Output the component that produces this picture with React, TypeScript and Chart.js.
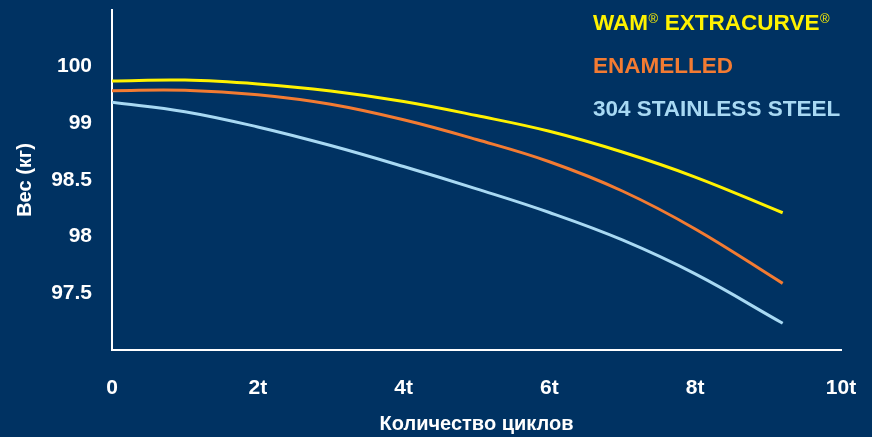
import React, { useEffect, useRef } from "react";
import { Chart, registerables } from "chart.js";

Chart.register(...registerables);

const BG = "#003262";
const CYCLES = [0, 1, 2, 3, 4, 5, 6, 7, 8, 9.2];
const WAM = [99.374, 99.382, 99.348, 99.286, 99.193, 99.069, 98.93, 98.747, 98.526, 98.211];
const ENAMELLED = [99.288, 99.291, 99.252, 99.168, 99.031, 98.857, 98.661, 98.403, 98.068, 97.588];
const STAINLESS = [99.186, 99.103, 98.968, 98.804, 98.619, 98.422, 98.213, 97.971, 97.671, 97.236];
const SERIES_NAMES = ["WAM® EXTRACURVE®", "ENAMELLED", "304 STAINLESS STEEL"];
const SERIES_COLORS = ["#fff200", "#f37b32", "#a8d9f3"];
const X_TICK_VALUES = [0, 2, 4, 6, 8, 10];
const X_TICK_LABELS = ["0", "2t", "4t", "6t", "8t", "10t"];
const Y_TICK_VALUES = [97.5, 98, 98.5, 99, 99.5];
const Y_TICK_LABELS = ["97.5", "98", "98.5", "99", "100"];
const X_TITLE = "Количество циклов";
const Y_TITLE = "Вес (кг)";

const FONT = "'Liberation Sans', Arial, sans-serif";

const legendPlugin = {
  id: "textLegend",
  afterDraw(chart: any) {
    const ctx = chart.ctx;
    ctx.save();
    ctx.textBaseline = "alphabetic";
    ctx.textAlign = "left";
    const x0 = 593;
    const baselines = [29.5, 72.5, 115.5];
    chart.data.datasets.forEach((ds: any, i: number) => {
      ctx.fillStyle = ds.borderColor;
      let x = x0;
      const parts = String(ds.label).split("®");
      parts.forEach((p: string, j: number) => {
        ctx.font = `bold 22.5px ${FONT}`;
        ctx.fillText(p, x, baselines[i]);
        x += ctx.measureText(p).width;
        if (j < parts.length - 1) {
          ctx.font = `13px ${FONT}`;
          ctx.fillText("®", x + 0.5, baselines[i] - 7);
          x += ctx.measureText("®").width + 1;
        }
      });
    });
    ctx.restore();
  },
};

export default function App() {
  const ref = useRef<HTMLCanvasElement | null>(null);
  useEffect(() => {
    document.body.style.margin = "0";
    document.body.style.background = BG;
    const datasets = [WAM, ENAMELLED, STAINLESS].map((vals, i) => ({
      label: SERIES_NAMES[i],
      data: vals.map((v, k) => ({ x: CYCLES[k], y: v })),
      borderColor: SERIES_COLORS[i],
      backgroundColor: SERIES_COLORS[i],
      borderWidth: 3,
      pointRadius: 0,
      tension: 0.4,
      fill: false,
    }));
    const chart = new Chart(ref.current!, {
      type: "line",
      data: { datasets },
      plugins: [legendPlugin],
      options: {
        animation: false,
        responsive: false,
        layout: { padding: { left: 0, top: 10, right: 31, bottom: 0 } },
        plugins: { legend: { display: false }, tooltip: { enabled: false } },
        scales: {
          x: {
            type: "linear",
            min: 0,
            max: 10,
            afterFit: (s: any) => {
              s.height = 87;
              s.paddingLeft = 0;
              s.paddingRight = 0;
            },
            afterBuildTicks: (s: any) => { s.ticks = X_TICK_VALUES.map((v) => ({ value: v })); },
            grid: { display: false, drawTicks: false },
            border: { display: true, color: "#ffffff", width: 2 },
            ticks: {
              color: "#ffffff",
              padding: 26,
              maxRotation: 0,
              font: { family: FONT, size: 21, weight: "bold" },
              callback: (v: any) => {
                const i = X_TICK_VALUES.indexOf(Number(v));
                return i >= 0 ? X_TICK_LABELS[i] : "";
              },
            },
            title: {
              display: true,
              text: X_TITLE,
              color: "#ffffff",
              padding: 1,
              font: { family: FONT, size: 20, weight: "bold", lineHeight: 1.2 },
            },
          },
          y: {
            type: "linear",
            min: 97,
            max: 100,
            afterFit: (s: any) => {
              s.width = 112;
              s.paddingTop = 0;
              s.paddingBottom = 0;
            },
            afterBuildTicks: (s: any) => { s.ticks = Y_TICK_VALUES.map((v) => ({ value: v })); },
            grid: { display: false, drawTicks: false },
            border: { display: true, color: "#ffffff", width: 2 },
            ticks: {
              color: "#ffffff",
              padding: 20,
              font: { family: FONT, size: 21, weight: "bold" },
              callback: (v: any) => {
                const i = Y_TICK_VALUES.indexOf(Number(v));
                return i >= 0 ? Y_TICK_LABELS[i] : "";
              },
            },
            title: {
              display: true,
              text: Y_TITLE,
              color: "#ffffff",
              padding: 13,
              font: { family: FONT, size: 20, weight: "bold", lineHeight: 1.2 },
            },
          },
        },
      },
    });
    return () => chart.destroy();
  }, []);
  return (
    <div style={{ width: 872, height: 437, background: BG }}>
      <canvas ref={ref} width={872} height={437} style={{ display: "block" }} />
    </div>
  );
}
